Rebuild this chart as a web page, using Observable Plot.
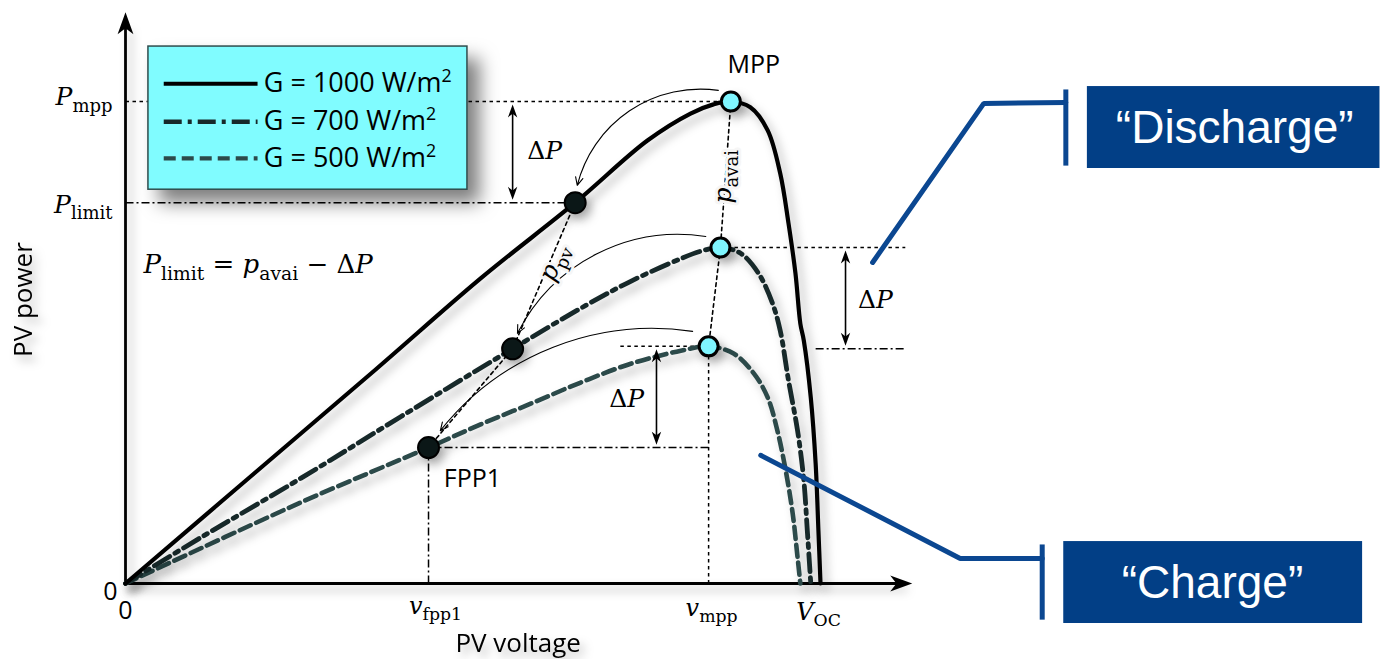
<!DOCTYPE html>
<html>
<head>
<meta charset="utf-8">
<script src="https://cdn.jsdelivr.net/npm/d3@7"></script>
<script src="https://cdn.jsdelivr.net/npm/@observablehq/plot@0.6"></script>
<style>
  html, body { margin: 0; padding: 0; background: #fff; overflow: hidden; }
  #chart svg { display: block; }
</style>
</head>
<body>
<div id="chart"></div>
<script>
// P–V characteristics in per-unit: voltage relative to V_OC at 1000 W/m²,
// power relative to the maximum power point at 1000 W/m².
const volt1000  = [0, 0.180, 0.360, 0.511, 0.647, 0.751, 0.813, 0.846, 0.871, 0.899, 0.924, 0.942, 0.954, 0.964, 0.971, 0.976, 0.986, 0.993, 0.997, 1.000];
const power1000 = [0, 0.222, 0.444, 0.633, 0.790, 0.919, 0.975, 0.994, 1.000, 0.988, 0.940, 0.851, 0.747, 0.643, 0.539, 0.504, 0.386, 0.249, 0.110, 0];

const volt700  = [0, 0.108, 0.252, 0.396, 0.557, 0.655, 0.727, 0.799, 0.827, 0.856, 0.885, 0.911, 0.931, 0.942, 0.954, 0.967, 0.976, 0.981, 0.986];
const power700 = [0, 0.095, 0.218, 0.346, 0.487, 0.571, 0.627, 0.674, 0.689, 0.697, 0.685, 0.643, 0.581, 0.525, 0.421, 0.317, 0.214, 0.110, 0];

const volt500  = [0, 0.252, 0.436, 0.511, 0.583, 0.655, 0.727, 0.799, 0.839, 0.875, 0.904, 0.924, 0.938, 0.950, 0.960, 0.967, 0.971];
const power500 = [0, 0.168, 0.282, 0.330, 0.373, 0.417, 0.456, 0.483, 0.492, 0.477, 0.436, 0.386, 0.317, 0.234, 0.145, 0.054, 0];

const irradiance = ["G = 1000 W/m^{2}", "G = 700 W/m^{2}", "G = 500 W/m^{2}"];

// maximum power points (available power) and flexible power points
const mppVolt  = [0.871, 0.856, 0.839];
const mppPower = [1.000, 0.697, 0.492];
const deltaP   = 0.21;
const fppVolt  = [0.647, 0.557, 0.436];
const fppPower = mppPower.map(p => p - deltaP);   // P_limit = p_avai − ΔP
const vOC = 1.0;

// axis labels
const xTickLabels = ["0", "*v*_{fpp1}", "*v*_{mpp}", "*V*_{OC}"];
const xTickValues = [0, fppVolt[2], mppVolt[2], vOC];
const yTickLabels = ["0", "*P*_{limit}", "*P*_{mpp}"];
const yTickValues = [0, fppPower[0], mppPower[0]];

// ΔP dimension arrows: voltage position of each one
const deltaArrowVolt = [0.557, 1.036, 0.764];

const SERIF = "'DejaVu Serif', 'Liberation Serif', serif";
const SANS  = "'Open Sans', 'Noto Sans', sans-serif";
const ARIAL = "'Liberation Sans', Arial, sans-serif";

const INK700 = "#17292a";
const INK500 = "#2c4a4a";
const BLUE_BOX = "#023f86";
const BLUE_LINE = "#0b4791";

const dotted = "3.5,3.5";
const dashDot = "8,3,2,3";
const dash700 = "18,6,4,6";
const dash500 = "12,6";

// filled "stealth" arrowhead, tip at the anchor, pointing up before rotation
const stealth = {
  draw(ctx, size) {
    const r = Math.sqrt(size / Math.PI);
    ctx.moveTo(0, 0);
    ctx.lineTo(0.36 * r, r);
    ctx.lineTo(0, 0.72 * r);
    ctx.lineTo(-0.36 * r, r);
    ctx.closePath();
  }
};

const shade = (f) => (index, scales, values, dims, context, next) => {
  const g = next(index, scales, values, dims, context);
  g.style.filter = f;
  return g;
};
const softShadow = shade("drop-shadow(5px 6px 5px rgba(0,0,0,0.28))");
const boxShadow  = shade("drop-shadow(12px 13px 9px rgba(0,0,0,0.5))");

const pts = (vs, ps) => vs.map((v, i) => ({v, p: ps[i]}));
const one = [0];

function label(text, v, p, opts) {
  return Plot.text([text], {x: () => v, y: () => p, text: d => d, ...opts});
}

// straight guide segments
const dottedGuides = [
  {x1: 0, x2: mppVolt[0], y1: mppPower[0], y2: mppPower[0]},
  {x1: mppVolt[1], x2: 1.122, y1: mppPower[1], y2: mppPower[1]},
  {x1: 0.712, x2: mppVolt[2], y1: mppPower[2], y2: mppPower[2]},
  {x1: mppVolt[2], x2: mppVolt[2], y1: 0, y2: mppPower[2]}
];
const dashDotGuides = [
  {x1: 0, x2: fppVolt[0], y1: fppPower[0], y2: fppPower[0]},
  {x1: 0.993, x2: 1.122, y1: fppPower[1], y2: fppPower[1]},
  {x1: fppVolt[2], x2: mppVolt[2], y1: fppPower[2], y2: fppPower[2]},
  {x1: fppVolt[2], x2: fppVolt[2], y1: 0, y2: fppPower[2]}
];

// curved arrows from each MPP towards the next flexible point
const arcStartVolt  = [0.853, 0.835, 0.816];
const arcStartPower = [1.023, 0.720, 0.523];
const arcEndVolt    = [0.650, 0.564, 0.453];
const arcEndPower   = [0.826, 0.519, 0.317];
const arcBend       = [-42, -36, -30];

const deltaArrows = deltaArrowVolt.map((v, i) => ({v, top: mppPower[i], bottom: fppPower[i]}));

const legendRows = [1.037, 0.958, 0.882];

const svg = Plot.plot({
  width: 1383,
  height: 659,
  margin: 0,
  x: {domain: [-0.17986, 1.81007], axis: null},
  y: {domain: [-0.15768, 1.20954], axis: null},
  style: {fontFamily: SANS, background: "transparent", overflow: "visible"},
  marks: [
    // guide lines
    Plot.link(dottedGuides, {x1: "x1", x2: "x2", y1: "y1", y2: "y2", stroke: "#000", strokeWidth: 1.5, strokeDasharray: dotted}),
    Plot.link(dashDotGuides, {x1: "x1", x2: "x2", y1: "y1", y2: "y2", stroke: "#000", strokeWidth: 1.5, strokeDasharray: dashDot}),
    Plot.line(pts(mppVolt, mppPower), {x: "v", y: "p", stroke: "#000", strokeWidth: 1.6, strokeDasharray: dotted}),
    Plot.line(pts(fppVolt, fppPower), {x: "v", y: "p", stroke: "#000", strokeWidth: 1.6, strokeDasharray: dotted}),

    // axes with arrowheads
    Plot.link(one, {x1: () => 0, x2: () => 1.118, y1: () => 0, y2: () => 0, stroke: "#000", strokeWidth: 2.8, render: softShadow}),
    Plot.link(one, {x1: () => 0, x2: () => 0, y1: () => 0, y2: () => 1.16, stroke: "#000", strokeWidth: 2.8, render: softShadow}),
    Plot.dot([{v: 1.132, p: 0, a: 90}, {v: 0, p: 1.185, a: 0}], {x: "v", y: "p", rotate: "a", symbol: stealth, r: 22, fill: "#000", stroke: "none"}),

    // P–V curves
    Plot.line(pts(volt500, power500), {x: "v", y: "p", curve: "catmull-rom", stroke: INK500, strokeWidth: 4.6, strokeDasharray: dash500, render: softShadow}),
    Plot.line(pts(volt700, power700), {x: "v", y: "p", curve: "catmull-rom", stroke: INK700, strokeWidth: 4.8, strokeDasharray: dash700, render: softShadow}),
    Plot.line(pts(volt1000, power1000), {x: "v", y: "p", curve: "catmull-rom", stroke: "#000", strokeWidth: 4.2, render: softShadow}),

    // legend
    Plot.rect(one, {x1: () => 0.033, x2: () => 0.492, y1: () => 0.817, y2: () => 1.114, fill: "#80fcff", stroke: "#2f4d4d", strokeWidth: 1.5, render: boxShadow}),
    Plot.link(one, {x1: () => 0.055, x2: () => 0.190, y1: () => legendRows[0], y2: () => legendRows[0], stroke: "#000", strokeWidth: 4}),
    Plot.link(one, {x1: () => 0.055, x2: () => 0.190, y1: () => legendRows[1], y2: () => legendRows[1], stroke: INK700, strokeWidth: 4.6, strokeDasharray: dash700}),
    Plot.link(one, {x1: () => 0.055, x2: () => 0.190, y1: () => legendRows[2], y2: () => legendRows[2], stroke: INK500, strokeWidth: 4.4, strokeDasharray: dash500}),
    Plot.text(irradiance, {x: () => 0.199, y: (d, i) => legendRows[i], text: d => d, textAnchor: "start", fontSize: 27, fontFamily: SANS, fill: "#000"}),

    // ΔP dimension arrows
    Plot.link(deltaArrows, {x1: "v", x2: "v", y1: d => d.top - 0.015, y2: d => d.bottom + 0.015, stroke: "#000", strokeWidth: 1.6}),
    Plot.dot(deltaArrows, {x: "v", y: d => d.top - 0.006, rotate: 0, symbol: stealth, r: 13, fill: "#000", stroke: "none"}),
    Plot.dot(deltaArrows, {x: "v", y: d => d.bottom + 0.006, rotate: 180, symbol: stealth, r: 13, fill: "#000", stroke: "none"}),

    // curved arrows
    ...arcBend.map((b, i) => Plot.arrow(one, {
      x1: () => arcStartVolt[i], y1: () => arcStartPower[i],
      x2: () => arcEndVolt[i], y2: () => arcEndPower[i],
      bend: b, headLength: 12, headAngle: 50, stroke: "#000", strokeWidth: 1.1
    })),

    // rotated labels on the dotted trajectories
    label("*p*_{avai}", 0.860, 0.844, {rotate: -90, fontSize: 25, fontFamily: SERIF, fill: "#000", stroke: "#f6f6f6", strokeWidth: 6}),
    label("*p*_{pv}", 0.616, 0.666, {rotate: -66.7, fontSize: 25, fontFamily: SERIF, fill: "#000", stroke: "#f6f6f6", strokeWidth: 6}),

    // operating points
    Plot.dot(pts(fppVolt, fppPower), {x: "v", y: "p", r: 10.5, fill: "#0b1717", stroke: "#000", strokeWidth: 2, render: softShadow}),
    Plot.dot(pts(mppVolt, mppPower), {x: "v", y: "p", r: 9.5, fill: "#7ff6ff", stroke: "#000", strokeWidth: 3, render: softShadow}),

    // axis tick labels
    label(yTickLabels[2], 0, yTickValues[2], {textAnchor: "end", dx: -13, dy: -4, fontSize: 25, fontFamily: SERIF, fill: "#000"}),
    label(yTickLabels[1], 0, yTickValues[1], {textAnchor: "end", dx: -13, dy: 2, fontSize: 25, fontFamily: SERIF, fill: "#000"}),
    label(yTickLabels[0], 0, yTickValues[0], {textAnchor: "end", dx: -8, dy: 9, fontSize: 25, fontFamily: SANS, fill: "#000"}),
    label(xTickLabels[0], xTickValues[0], 0, {dy: 28, fontSize: 25, fontFamily: SANS, fill: "#000"}),
    label(xTickLabels[1], xTickValues[1], 0, {dx: 7, dy: 23, fontSize: 24, fontFamily: SERIF, fill: "#000"}),
    label(xTickLabels[2], xTickValues[2], 0, {dx: 3, dy: 25, fontSize: 24, fontFamily: SERIF, fill: "#000"}),
    label(xTickLabels[3], xTickValues[3], 0, {dx: -2, dy: 29, fontSize: 24, fontFamily: SERIF, fill: "#000"}),

    // axis titles
    label("PV power", -0.147, 0.589, {rotate: -90, fontSize: 26, fontFamily: SANS, fill: "#000", render: softShadow}),
    label("PV voltage", 0.565, -0.124, {fontSize: 26, fontFamily: SANS, fill: "#000", render: softShadow}),

    // annotations
    label("MPP", 0.904, 1.075, {fontSize: 25, fontFamily: SANS, fill: "#000"}),
    label("FPP1", 0.458, 0.216, {textAnchor: "start", fontSize: 25, fontFamily: SANS, fill: "#000"}),
    label("*P*_{limit} = *p*_{avai} − Δ*P*", 0.026, 0.662, {textAnchor: "start", fontSize: 26, fontFamily: SERIF, fill: "#000"}),
    label("Δ*P*", 0.603, 0.898, {fontSize: 25, fontFamily: SERIF, fill: "#000"}),
    label("Δ*P*", 1.079, 0.589, {fontSize: 25, fontFamily: SERIF, fill: "#000"}),
    label("Δ*P*", 0.721, 0.382, {fontSize: 25, fontFamily: SERIF, fill: "#000"}),

    // callouts
    Plot.line([{v: 1.075, p: 0.666}, {v: 1.235, p: 0.996}, {v: 1.353, p: 0.998}], {x: "v", y: "p", stroke: BLUE_LINE, strokeWidth: 5, strokeLinejoin: "miter"}),
    Plot.link(one, {x1: () => 1.353, x2: () => 1.353, y1: () => 0.867, y2: () => 1.025, stroke: BLUE_LINE, strokeWidth: 5}),
    Plot.rect(one, {x1: () => 1.384, x2: () => 1.805, y1: () => 0.861, y2: () => 1.031, fill: BLUE_BOX}),
    label("“Discharge”", 1.596, 0.944, {fontSize: 46, fontFamily: ARIAL, fill: "#fff"}),

    Plot.line([{v: 0.914, p: 0.266}, {v: 1.201, p: 0.052}, {v: 1.319, p: 0.052}], {x: "v", y: "p", stroke: BLUE_LINE, strokeWidth: 5, strokeLinejoin: "miter"}),
    Plot.link(one, {x1: () => 1.319, x2: () => 1.319, y1: () => -0.075, y2: () => 0.081, stroke: BLUE_LINE, strokeWidth: 5}),
    Plot.rect(one, {x1: () => 1.350, x2: () => 1.780, y1: () => -0.083, y2: () => 0.087, fill: BLUE_BOX}),
    label("“Charge”", 1.564, 0.0, {fontSize: 46, fontFamily: ARIAL, fill: "#fff"})
  ]
});

document.getElementById("chart").appendChild(svg);

// Light math typesetting: *x* italic, _{..} subscript, ^{..} superscript.
function typeset(root) {
  const NS = "http://www.w3.org/2000/svg";
  d3.select(root).selectAll("text").each(function () {
    const el = this;
    const s = el.textContent;
    if (!/\*|_\{|\^\{/.test(s)) return;
    const fs = parseFloat(getComputedStyle(el).fontSize) || 16;
    el.textContent = "";
    const re = /\*([^*]+)\*|_\{([^}]+)\}|\^\{([^}]+)\}|([^*_^]+)/g;
    let m, shift = 0;
    while ((m = re.exec(s))) {
      const t = document.createElementNS(NS, "tspan");
      let target = 0, size = null, italic = false, txt;
      if (m[1] != null) { txt = m[1]; italic = true; }
      else if (m[2] != null) { txt = m[2]; target = 0.26 * fs; size = 0.72 * fs; }
      else if (m[3] != null) { txt = m[3]; target = -0.38 * fs; size = 0.66 * fs; }
      else { txt = m[4]; }
      if (target !== shift) t.setAttribute("dy", (target - shift).toFixed(2));
      shift = target;
      if (size) t.setAttribute("font-size", size.toFixed(2));
      if (italic) t.setAttribute("font-style", "italic");
      t.textContent = txt;
      el.appendChild(t);
    }
  });
}
typeset(svg);
</script>
</body>
</html>
